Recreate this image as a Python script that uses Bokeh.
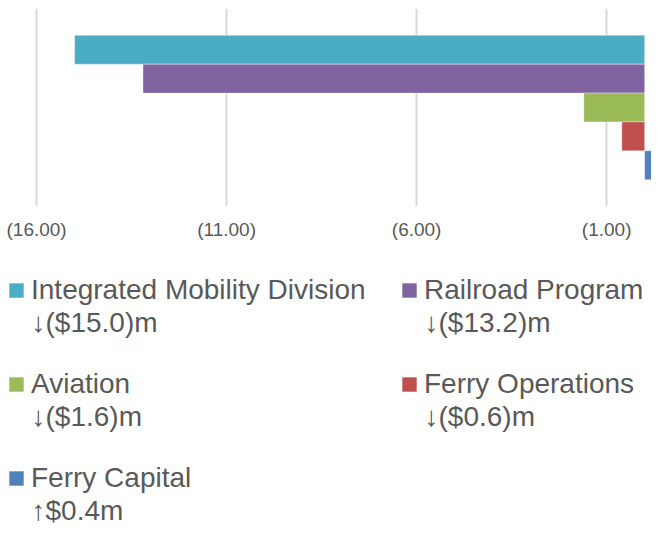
from bokeh.plotting import figure
from bokeh.layouts import column
from bokeh.models import (ColumnDataSource, Range1d, FixedTicker, NumeralTickFormatter,
                          Legend, LegendItem, Label)
from bokeh.embed import file_html
from bokeh.resources import INLINE

# ---- data ----
categories = ["Integrated Mobility Division", "Railroad Program", "Aviation",
              "Ferry Operations", "Ferry Capital"]
values = [-15.0, -13.2, -1.6, -0.6, 0.4]
change_labels = ["\u2193($15.0)m", "\u2193($13.2)m", "\u2193($1.6)m",
                 "\u2193($0.6)m", "\u2191$0.4m"]
colors = ["#4BACC6", "#8064A2", "#9BBB59", "#C0504D", "#4F81BD"]
tick_values = [-16, -11, -6, -1]

n = len(categories)
ypos = [n - 1 - i for i in range(n)]

FONT = "Liberation Sans"
TEXT = "#595959"
W, H = 651, 527
TOP, FRAME_H = 8, 198
CHART_H = 250
LEG_H = H - CHART_H

p = figure(width=W, height=CHART_H, output_backend="svg", toolbar_location=None,
           x_range=Range1d(-16.95, 0.18), y_range=Range1d(-1.43, 5.43),
           min_border_left=0, min_border_right=0, min_border_top=TOP,
           min_border_bottom=CHART_H - TOP - FRAME_H)
p.outline_line_color = None
p.background_fill_color = "white"
p.border_fill_color = "white"

sources = []
for i in range(n):
    src = ColumnDataSource(dict(y=[ypos[i]], right=[values[i]], left=[0]))
    sources.append(src)
    p.hbar(y="y", left="left", right="right", height=1.0, source=src,
           fill_color=colors[i], line_color="white", line_alpha=0.35, line_width=1)

# axes
p.yaxis.visible = False
p.ygrid.visible = False
xa = p.xaxis[0]
xa.ticker = FixedTicker(ticks=tick_values)
xa.formatter = NumeralTickFormatter(format="(0.00)")
xa.axis_line_color = None
xa.major_tick_line_color = None
xa.minor_tick_line_color = None
xa.major_tick_out = 0
xa.major_tick_in = 0
xa.major_label_standoff = 12
xa.major_label_text_font = FONT
xa.major_label_text_font_size = "19px"
xa.major_label_text_color = TEXT
p.xgrid.ticker = FixedTicker(ticks=tick_values)
p.xgrid.grid_line_color = "#D9D9D9"
p.xgrid.grid_line_width = 2

# ---- legend figure (keys for the same series) ----
q = figure(width=W, height=LEG_H, output_backend="svg", toolbar_location=None,
           x_range=Range1d(-16.95, 0.18), y_range=Range1d(-1.43, 5.43),
           x_axis_type=None, y_axis_type=None,
           min_border_left=0, min_border_right=0, min_border_top=0, min_border_bottom=0)
q.outline_line_color = None
q.xgrid.visible = False
q.ygrid.visible = False
key_renderers = []
for i in range(n):
    r = q.hbar(y="y", left="left", right="right", height=1.0, source=sources[i],
               fill_color=colors[i], line_color=None, visible=False)
    key_renderers.append(r)

ITEM_H = 36
ROW_PITCH = 94
ROW_CENTER0 = 289.5 - CHART_H   # y of first legend row centre, inside legend figure
COL_X = [7, 400]
GLYPH = 18
STANDOFF = 6
LINE2 = 32                       # second line offset below row centre

cols = {0: [], 1: []}
for i in range(n):
    cols[i % 2].append(i)

for c, idxs in cols.items():
    items = [LegendItem(label=categories[i], renderers=[key_renderers[i]]) for i in idxs]
    nrows = len(idxs)
    leg_h = nrows * ITEM_H + (nrows - 1) * (ROW_PITCH - ITEM_H)
    leg_top = ROW_CENTER0 - ITEM_H / 2
    leg = Legend(items=items, location=(COL_X[c], LEG_H - (leg_top + leg_h)),
                 orientation="vertical",
                 label_text_font=FONT, label_text_font_size="28px",
                 label_text_color=TEXT, label_height=ITEM_H,
                 glyph_width=GLYPH, glyph_height=GLYPH, label_standoff=STANDOFF,
                 spacing=ROW_PITCH - ITEM_H, padding=0, margin=0,
                 border_line_color=None, background_fill_alpha=0)
    q.add_layout(leg, "center")
    for r_i, i in enumerate(idxs):
        base = ROW_CENTER0 + r_i * ROW_PITCH + LINE2
        q.add_layout(Label(x=COL_X[c] + GLYPH + STANDOFF, y=LEG_H - base,
                           x_units="screen", y_units="screen", text=change_labels[i],
                           text_font=FONT, text_font_size="28px", text_color=TEXT,
                           text_baseline="alphabetic", text_align="left"))

layout = column(p, q, spacing=0)
open("out.html", "w").write(file_html(layout, INLINE))
